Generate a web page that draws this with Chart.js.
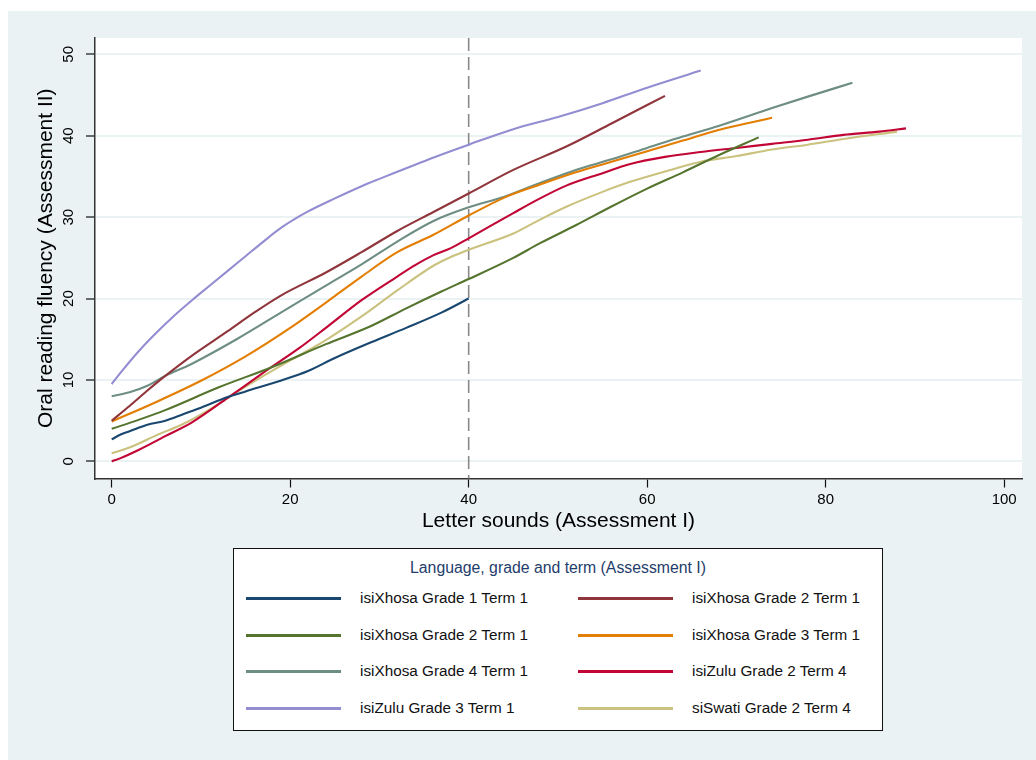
<!DOCTYPE html>
<html>
<head>
<meta charset="utf-8">
<script src="https://cdn.jsdelivr.net/npm/chart.js@4.4.1/dist/chart.umd.min.js"></script>
<style>
    html, body { margin: 0; padding: 0; background: #fff; }
    body { width: 1036px; height: 760px; position: relative; overflow: hidden;
           font-family: "Liberation Sans", Arial, Helvetica, sans-serif; }
    #bg { position: absolute; left: 8px; top: 11px; right: 0; bottom: 0; background: #eaf2f3; }
    #chart { position: absolute; left: 0; top: 0; }
    #legend { position: absolute; left: 233px; top: 548px; width: 650px; height: 183px;
              box-sizing: border-box; border: 1px solid #111; background: #fff; }
    #legend .ltitle { position: absolute; left: 0; right: 0; top: 9px; line-height: 20px;
                      text-align: center; font-size: 15.8px; color: #1f3d6b; }
    #legend .swatch { position: absolute; height: 3px; width: 95px; }
    #legend .ltext { position: absolute; line-height: 20px; font-size: 15.3px; color: #111; white-space: nowrap; }
</style>
</head>
<body>
<div id="bg"></div>
<canvas id="chart" width="1036" height="760"></canvas>
<div id="legend"><div class="ltitle">Language, grade and term (Assessment I)</div></div>

<script>
// series labels, in legend order (row by row)
const seriesLabels = [
    'isiXhosa Grade 1 Term 1', 'isiXhosa Grade 2 Term 1',
    'isiXhosa Grade 2 Term 1', 'isiXhosa Grade 3 Term 1',
    'isiXhosa Grade 4 Term 1', 'isiZulu Grade 2 Term 4',
    'isiZulu Grade 3 Term 1', 'siSwati Grade 2 Term 4'
];

// lowess curves: letter sounds (x) -> oral reading fluency (y)
const xhG1T1_x = [0, 1, 2, 4, 6, 8, 10, 13, 15, 19, 22, 25, 29, 33, 37, 40];
const xhG1T1_y = [2.7, 3.3, 3.7, 4.5, 5.0, 5.8, 6.6, 7.9, 8.6, 9.95, 11.1, 12.7, 14.6, 16.4, 18.3, 20.0];

const xhG2T1a_x = [0, 2, 4, 6, 9, 13, 16, 19, 24, 28, 32, 36, 40, 45, 51, 56, 62];
const xhG2T1a_y = [5.0, 6.8, 8.7, 10.5, 13.0, 16.0, 18.3, 20.4, 23.2, 25.7, 28.3, 30.6, 32.9, 35.8, 38.7, 41.5, 44.9];

const xhG2T1b_x = [0, 3, 6, 12, 18, 24, 29, 33, 37, 40, 45, 48, 52, 56, 60, 64, 68, 72.5];
const xhG2T1b_y = [4.0, 5.1, 6.3, 9.1, 11.6, 14.4, 16.6, 18.8, 20.9, 22.4, 25.0, 26.8, 29.0, 31.3, 33.5, 35.5, 37.6, 39.8];

const xhG3T1_x = [0, 5, 10, 15, 20, 25, 28, 32, 36, 40, 44, 48, 52, 56, 60, 64, 68, 74];
const xhG3T1_y = [4.9, 7.3, 9.9, 12.9, 16.4, 20.3, 22.7, 25.7, 27.8, 30.2, 32.4, 34.0, 35.5, 36.8, 38.1, 39.4, 40.7, 42.2];

const xhG4T1_x = [0, 2, 4, 6, 9, 14, 19, 24, 28, 32, 36, 40, 44, 48, 52, 56, 60, 64, 68, 74, 78, 83];
const xhG4T1_y = [8.0, 8.5, 9.3, 10.5, 12.0, 15.0, 18.3, 21.6, 24.2, 27.0, 29.5, 31.2, 32.5, 34.2, 35.8, 37.1, 38.5, 39.9, 41.2, 43.4, 44.8, 46.5];

const zuG2T4_x = [0, 1, 3, 6, 9, 13, 17, 21, 24, 28, 32, 34, 36, 38, 40, 45, 48, 51, 55, 58, 62, 66, 70, 74, 78, 82, 86, 89];
const zuG2T4_y = [0.0, 0.4, 1.4, 3.1, 4.8, 7.8, 10.9, 13.9, 16.4, 19.8, 22.7, 24.1, 25.3, 26.2, 27.4, 30.5, 32.3, 33.9, 35.4, 36.5, 37.4, 38.0, 38.5, 39.0, 39.5, 40.1, 40.5, 40.9];

const zuG3T1_x = [0, 1, 3, 5, 7, 9, 11, 13, 15, 17, 19, 22, 25, 28, 30, 33, 36, 40, 45, 50, 55, 60, 66];
const zuG3T1_y = [9.5, 10.9, 13.5, 15.8, 17.9, 19.8, 21.6, 23.4, 25.2, 27.0, 28.7, 30.7, 32.3, 33.8, 34.7, 36.0, 37.3, 38.9, 40.8, 42.3, 44.0, 45.9, 48.0];

const swG2T4_x = [0, 2, 5, 8, 11, 14, 17, 20, 24, 28, 32, 36, 38, 40, 45, 48, 51, 55, 58, 62, 66, 70, 74, 78, 82, 88];
const swG2T4_y = [1.0, 1.7, 3.2, 4.6, 6.4, 8.5, 10.5, 12.4, 14.9, 17.8, 21.0, 24.0, 25.1, 26.0, 28.0, 29.7, 31.3, 33.1, 34.3, 35.6, 36.8, 37.5, 38.3, 38.9, 39.6, 40.5];

// tick labels and reference line
const xTicks = [0, 20, 40, 60, 80, 100];
const yTicks = [0, 10, 20, 30, 40, 50];
const refLineX = 40;

const seriesX = [xhG1T1_x, xhG2T1a_x, xhG2T1b_x, xhG3T1_x, xhG4T1_x, zuG2T4_x, zuG3T1_x, swG2T4_x];
const seriesY = [xhG1T1_y, xhG2T1a_y, xhG2T1b_y, xhG3T1_y, xhG4T1_y, zuG2T4_y, zuG3T1_y, swG2T4_y];

// Stata s2color palette
const colors = ['#1a476f', '#90353b', '#55752f', '#e37e00', '#6e8e84', '#c10534', '#938dd2', '#cac27e'];

const datasets = seriesLabels.map((label, i) => ({
    label: label,
    data: seriesX[i].map((x, j) => ({ x: x, y: seriesY[i][j] })),
    borderColor: colors[i],
    borderWidth: 2.1,
    pointRadius: 0,
    fill: false,
    cubicInterpolationMode: 'monotone'
}));

// white plot region + dashed reference line
const plotArea = {
    id: 'plotArea',
    beforeDraw(chart) {
        const { ctx, chartArea: a } = chart;
        ctx.save();
        ctx.fillStyle = '#ffffff';
        ctx.fillRect(a.left, a.top, a.right - a.left, a.bottom - a.top);
        ctx.restore();
    },
    beforeDatasetsDraw(chart) {
        const { ctx, chartArea: a, scales } = chart;
        const px = scales.x.getPixelForValue(refLineX);
        ctx.save();
        ctx.strokeStyle = '#8a8a8a';
        ctx.lineWidth = 1.6;
        ctx.setLineDash([13, 6]);
        ctx.beginPath();
        ctx.moveTo(px, a.top);
        ctx.lineTo(px, a.bottom);
        ctx.stroke();
        ctx.restore();
    }
};

Chart.defaults.font.family = '"Liberation Sans", Arial, Helvetica, sans-serif';
Chart.defaults.color = '#000';

new Chart(document.getElementById('chart'), {
    type: 'line',
    data: { datasets: datasets },
    options: {
        responsive: false,
        animation: false,
        layout: { padding: { left: 0, top: 38, right: 14, bottom: 0 } },
        plugins: { legend: { display: false }, tooltip: { enabled: false } },
        scales: {
            x: {
                type: 'linear',
                min: -1.87,
                max: 102,
                afterBuildTicks: (s) => { s.ticks = xTicks.map(v => ({ value: v })); },
                afterFit: (s) => { s.height = 281.5; },
                grid: { drawOnChartArea: false, tickLength: 9, tickColor: '#111', tickWidth: 1.2 },
                border: { color: '#333', width: 1.5 },
                ticks: { font: { size: 15 }, padding: 3, maxRotation: 0, autoSkip: false },
                title: {
                    display: true,
                    text: 'Letter sounds (Assessment I)',
                    font: { size: 21 },
                    padding: { top: 0, bottom: 226 }
                }
            },
            y: {
                type: 'linear',
                min: -2.1,
                max: 52,
                afterBuildTicks: (s) => { s.ticks = yTicks.map(v => ({ value: v })); },
                afterFit: (s) => { s.width = 95; },
                grid: { color: '#eaf2f3', lineWidth: 2, tickLength: 9, tickColor: '#111', tickWidth: 1.2 },
                border: { color: '#333', width: 1.5 },
                ticks: { font: { size: 15 }, padding: 8.5, minRotation: 90, maxRotation: 90, crossAlign: 'center' },
                title: {
                    display: true,
                    text: 'Oral reading fluency (Assessment II)',
                    font: { size: 21 },
                    padding: { top: 34, bottom: 0 }
                }
            }
        }
    },
    plugins: [plotArea]
});

// legend box, two columns filled row by row
const legend = document.getElementById('legend');
const rowTops = [49, 86, 122, 159];
const colSwatch = [12, 344];
const colText = [126, 458];
seriesLabels.forEach((label, i) => {
    const row = Math.floor(i / 2), col = i % 2;
    const sw = document.createElement('div');
    sw.className = 'swatch';
    sw.style.left = colSwatch[col] + 'px';
    sw.style.top = (rowTops[row] - 1.5) + 'px';
    sw.style.background = colors[i];
    legend.appendChild(sw);
    const tx = document.createElement('div');
    tx.className = 'ltext';
    tx.style.left = colText[col] + 'px';
    tx.style.top = (rowTops[row] - 10) + 'px';
    tx.textContent = label;
    legend.appendChild(tx);
});
</script>
</body>
</html>
